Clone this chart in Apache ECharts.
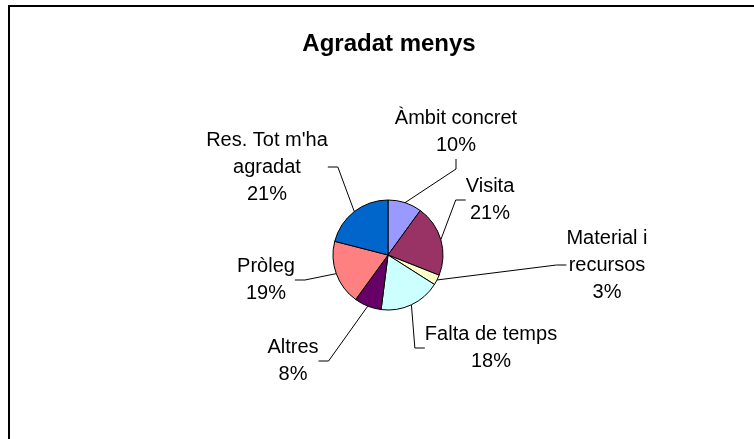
<!DOCTYPE html>
<html>
<head>
<meta charset="utf-8">
<script src="https://cdn.jsdelivr.net/npm/echarts@6/dist/echarts.min.js"></script>
<style>
  html, body { margin: 0; padding: 0; background: #fff; }
  #frame { position: absolute; left: 8px; top: 5px; right: 0; bottom: 0;
           border-top: 2px solid #000; border-left: 2px solid #000; }
  #chart { position: absolute; left: 0; top: 0; width: 754px; height: 439px; }
</style>
</head>
<body>
<div id="frame"></div>
<div id="chart"></div>
<script>
// Survey answers: what was liked least (percent of responses)
const categories = ['Àmbit concret', 'Visita', 'Material i\nrecursos', 'Falta de temps', 'Altres', 'Pròleg', "Res. Tot m'ha\nagradat"];
const values = [10, 21, 3, 18, 8, 19, 21];
const colors = ['#9999FF', '#993366', '#FFFFCC', '#CCFFFF', '#660066', '#FF8080', '#0066CC'];

// Where each label block sits (centre of the text block)
const labelSpots = [[456, 132], [490, 200], [607, 265], [491, 348], [293, 361], [266, 280], [267, 167]];

const chart = echarts.init(document.getElementById('chart'), null, { renderer: 'canvas' });
chart.setOption({
  backgroundColor: 'transparent',
  animation: false,
  title: {
    text: 'Agradat menys',
    left: 384,
    top: 27,
    textAlign: 'center',
    textStyle: { fontFamily: 'Liberation Sans, Arial, sans-serif', fontSize: 24, fontWeight: 'bold', color: '#000' }
  },
  series: [{
    type: 'pie',
    center: [388, 255],
    radius: 55,
    startAngle: 90,
    clockwise: true,
    avoidLabelOverlap: false,
    data: categories.map((name, i) => ({ name, value: values[i], itemStyle: { color: colors[i] } })),
    itemStyle: { borderColor: '#000', borderWidth: 1 },
    label: {
      show: true,
      position: 'outside',
      formatter: '{b}\n{c}%',
      fontFamily: 'Liberation Sans, Arial, sans-serif',
      fontSize: 20,
      lineHeight: 27,
      color: '#000',
      align: 'center'
    },
    labelLine: { show: true, length: 10, length2: 10, lineStyle: { color: '#000', width: 1 } },
    labelLayout: function (p) {
      const s = labelSpots[p.dataIndex];
      return { x: s[0], y: s[1], align: 'center', verticalAlign: 'middle' };
    },
    emphasis: { disabled: true }
  }]
});
</script>
</body>
</html>
